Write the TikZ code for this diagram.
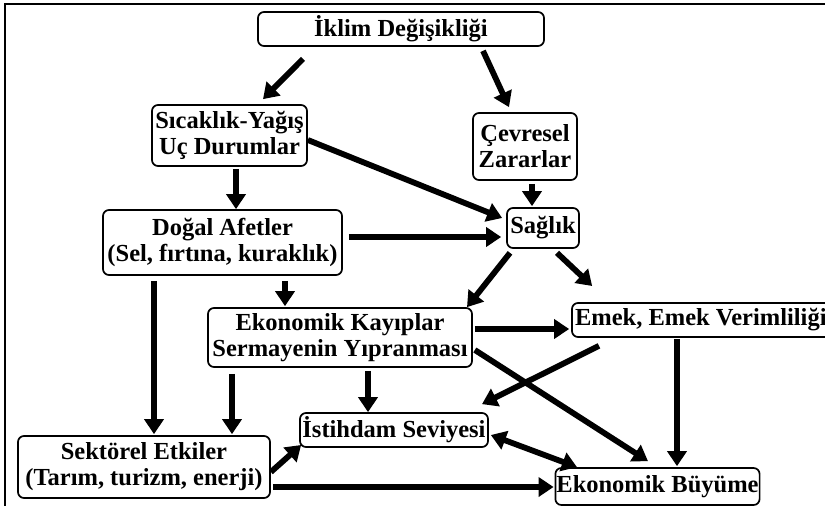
\documentclass[tikz,border=0pt]{standalone}
\usepackage{fontspec}
\setmainfont{Liberation Serif}
\usetikzlibrary{arrows.meta,calc}
\begin{document}
\begin{tikzpicture}[x=1pt,y=-1pt,
  box/.style={draw,line width=1.7pt,rounded corners=6pt,align=center,inner sep=1pt,
    font=\fontsize{24.5}{26}\selectfont\bfseries},
  arr/.style={line width=5.8pt,-{Triangle[length=15pt,width=19pt]}},
  darr/.style={line width=5.8pt,{Triangle[length=15pt,width=19pt]}-{Triangle[length=15pt,width=19pt]}}]
\useasboundingbox (0,0) rectangle (825,506);
\draw[line width=1.6pt] (5,530) -- (5,4) -- (850,4);
\node[box,minimum width=286pt,minimum height=34pt] (ik) at (401,29) {İklim Değişikliği};
\node[box,minimum width=155pt,minimum height=61pt] (sy) at (229.5,135.5) {Sıcaklık-Yağış\\Uç Durumlar};
\node[box,minimum width=104pt,minimum height=67pt] (cz) at (525,146.5) {Çevresel\\Zararlar};
\node[box,minimum width=72pt,minimum height=40pt] (sa) at (543,228) {Sağlık};
\node[box,minimum width=239pt,minimum height=65pt] (da) at (222.5,242.5) {Doğal Afetler\\(Sel, fırtına, kuraklık)};
\node[box,minimum width=264pt,minimum height=59pt] (ek) at (340,337.5) {Ekonomik Kayıplar\\Sermayenin Yıpranması};
\node[box,minimum width=263pt,minimum height=34pt] (em) at (703.5,320) {\makebox[257pt][l]{Emek, Emek Verimliliği}};
\node[box,minimum width=188pt,minimum height=34pt] (is) at (394,430) {İstihdam Seviyesi};
\node[box,minimum width=252pt,minimum height=62pt] (se) at (144,467) {Sektörel Etkiler\\(Tarım, turizm, enerji)};
\node[box,minimum width=203pt,minimum height=37pt] (eb) at (657.5,486.5) {Ekonomik Büyüme};
% connectors
\draw[arr] ($(ik.south)+(-98,12)$) -- ($(sy.north)+(33.5,-5)$);
\draw[arr] ($(ik.south)+(82,4)$) -- ($(cz.north)+(-16,-5)$);
\draw[arr] ($(sy.south)+(6.5,2)$) -- ($(da.north)+(13.5,0)$);
\draw[arr] ($(sy.east)+(0,4.5)$) -- ($(sa.west)+(-4,-10)$);
\draw[arr] ($(cz.south)+(7,3)$) -- ($(sa.north)+(-11,-1)$);
\draw[arr] ($(da.east)+(6,-5.5)$) -- ($(sa.west)+(-5,9)$);
\draw[arr] ($(sa.south)+(-33,4)$) -- ($(ek.north)+(127,0)$);
\draw[arr] ($(sa.south)+(14,4)$) -- ($(em.west)+(21,-34)$);
\draw[arr] ($(da.south)+(62.5,5)$) -- ($(ek.north)+(-55,-1)$);
\draw[arr] ($(da.south)+(-68.5,5)$) -- ($(se.north)+(10,-1)$);
\draw[arr] ($(ek.south)+(-108,6)$) -- ($(se.north)+(88,-1)$);
\draw[arr] ($(ek.south)+(28,3)$) -- ($(is.north)+(-26,0)$);
\draw[arr] ($(ek.east)+(2,-8.5)$) -- ($(em.west)+(-2,9)$);
\draw[arr] ($(ek.east)+(2,12.5)$) -- ($(eb.north)+(-9.5,-6)$);
\draw[arr] ($(em.south)+(-104.5,8)$) -- ($(is.north)+(88,-8)$);
\draw[arr] ($(em.south)+(-26.5,1)$) -- ($(eb.north)+(19.5,-1)$);
\draw[darr] ($(is.east)+(2,5)$) -- ($(eb.north)+(-80.5,0)$);
\draw[arr] ($(se.east)+(0,5)$) -- ($(is.west)+(2,15)$);
\draw[arr] ($(se.east)+(2,20)$) -- ($(eb.west)+(-1,0.5)$);
\end{tikzpicture}
\end{document}
